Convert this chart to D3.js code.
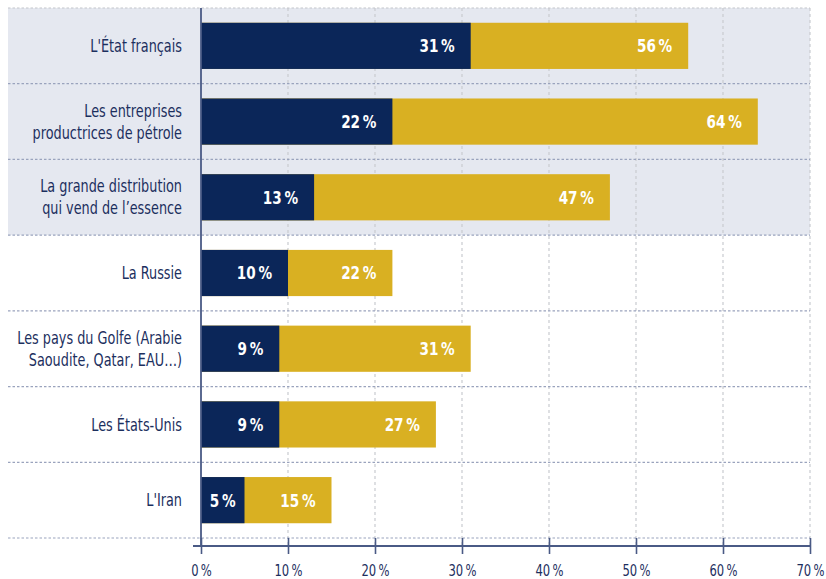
<!DOCTYPE html>
<html>
<head>
<meta charset="utf-8">
<script src="https://cdn.jsdelivr.net/npm/d3@7"></script>
<style>
  html, body { margin: 0; padding: 0; background: #ffffff; }
  svg { display: block; font-family: "DejaVu Sans Condensed", "DejaVu Sans", sans-serif; }
</style>
</head>
<body>
<svg id="chart" width="826" height="579"></svg>
<script>
// Who is responsible for fuel prices: main answer vs. total answers (%)
const categories = [
  ["L'État français"],
  ["Les entreprises", "productrices de pétrole"],
  ["La grande distribution", "qui vend de l’essence"],
  ["La Russie"],
  ["Les pays du Golfe (Arabie", "Saoudite, Qatar, EAU…)"],
  ["Les États-Unis"],
  ["L'Iran"]
];
const firstChoice = [31, 22, 13, 10, 9, 9, 5];
const totalChoice = [56, 64, 47, 22, 31, 27, 15];
const xTicks = [0, 10, 20, 30, 40, 50, 60, 70];
const shadedRows = 3;

const navy = "#0b2659";
const gold = "#d9b022";
const inkBlue = "#1c2f5e";
const narrow = 0.84;   // horizontal squeeze for a condensed look

const svg = d3.select("#chart");
const plotLeft = 201, plotRight = 810, plotTop = 8, plotBottom = 538, axisY = 546, bgLeft = 8;

const x = d3.scaleLinear().domain([0, 70]).range([plotLeft, plotRight]);
const y = d3.scaleBand().domain(d3.range(categories.length)).range([plotTop, plotBottom]).paddingInner(0.39).paddingOuter(0.195);
const row = d3.scaleBand().domain(d3.range(categories.length)).range([plotTop, plotBottom]);

// shaded background for the first rows
svg.append("rect")
  .attr("x", bgLeft).attr("y", plotTop)
  .attr("width", plotRight - bgLeft).attr("height", row.step() * shadedRows)
  .attr("fill", "#e5e8f0");

// vertical gridlines
svg.append("g").selectAll("line").data(xTicks.slice(1)).join("line")
  .attr("x1", d => x(d)).attr("x2", d => x(d))
  .attr("y1", plotTop).attr("y2", axisY)
  .attr("stroke", "#c9cbd0").attr("stroke-width", 1.2)
  .attr("stroke-dasharray", "3,3");

// horizontal row separators
const seps = d3.range(categories.length + 1);
svg.append("g").selectAll("line").data(seps).join("line")
  .attr("x1", bgLeft).attr("x2", plotRight)
  .attr("y1", d => plotTop + d * row.step()).attr("y2", d => plotTop + d * row.step())
  .attr("stroke", d => d === 0 ? "#c4c6cc" : "#9aa3bd").attr("stroke-width", 1.2)
  .attr("stroke-dasharray", "2.5,2");

// total bars (behind)
svg.append("g").selectAll("rect").data(totalChoice).join("rect")
  .attr("x", x(0)).attr("y", (d, i) => y(i))
  .attr("width", d => x(d) - x(0)).attr("height", y.bandwidth())
  .attr("fill", gold);

// first-choice bars (front)
svg.append("g").selectAll("rect").data(firstChoice).join("rect")
  .attr("x", x(0)).attr("y", (d, i) => y(i))
  .attr("width", d => x(d) - x(0)).attr("height", y.bandwidth())
  .attr("fill", navy);

const fmt = d => d + "\u202F%";

function valueLabels(data, startOf) {
  svg.append("g").selectAll("text").data(data).join("text")
    .attr("transform", (d, i) => {
      const s = startOf(i), e = x(d);
      const px = (e - s) < 60 ? (s + e) / 2 : e - 16;
      return `translate(${px},${y(i) + y.bandwidth() / 2}) scale(${narrow},1)`;
    })
    .attr("text-anchor", (d, i) => (x(d) - startOf(i)) < 60 ? "middle" : "end")
    .attr("dy", "0.36em")
    .attr("fill", "#ffffff")
    .attr("font-weight", "bold")
    .attr("font-size", 18)
    .text(fmt);
}
valueLabels(firstChoice, () => x(0));
valueLabels(totalChoice, i => x(firstChoice[i]));

// category labels
const lab = svg.append("g").selectAll("text").data(categories).join("text")
  .attr("text-anchor", "end")
  .attr("fill", inkBlue)
  .attr("font-size", 17)
  .attr("transform", (d, i) => `translate(182,${row(i) + row.step() / 2}) scale(${narrow},1)`);
lab.each(function(lines) {
  const lh = 22;
  d3.select(this).selectAll("tspan").data(lines).join("tspan")
    .attr("x", 0)
    .attr("y", (l, j) => (j - (lines.length - 1) / 2) * lh)
    .attr("dy", "0.36em")
    .text(l => l);
});

// left axis line
svg.append("line")
  .attr("x1", plotLeft).attr("x2", plotLeft).attr("y1", plotTop).attr("y2", axisY)
  .attr("stroke", "#4a5a85").attr("stroke-width", 1.8);

// bottom axis
const axis = svg.append("g")
  .attr("transform", `translate(0,${axisY})`)
  .call(d3.axisBottom(x).tickValues(xTicks).tickFormat(fmt).tickSize(8).tickPadding(12));
axis.select(".domain").remove();
axis.insert("line", ":first-child")
  .attr("x1", 193).attr("x2", plotRight).attr("y1", 0).attr("y2", 0)
  .attr("stroke", "#4a5a85").attr("stroke-width", 1.8);
axis.selectAll(".tick line").attr("stroke", "#4a5a85").attr("stroke-width", 1.6).attr("y1", -8);
axis.selectAll(".tick text")
  .attr("fill", inkBlue)
  .attr("font-size", 16.5)
  .attr("y", 30.5)
  .attr("dy", null)
  .attr("transform", "scale(0.78,1)")
  .attr("font-family", "\"DejaVu Sans Condensed\", \"DejaVu Sans\", sans-serif");
</script>
</body>
</html>
